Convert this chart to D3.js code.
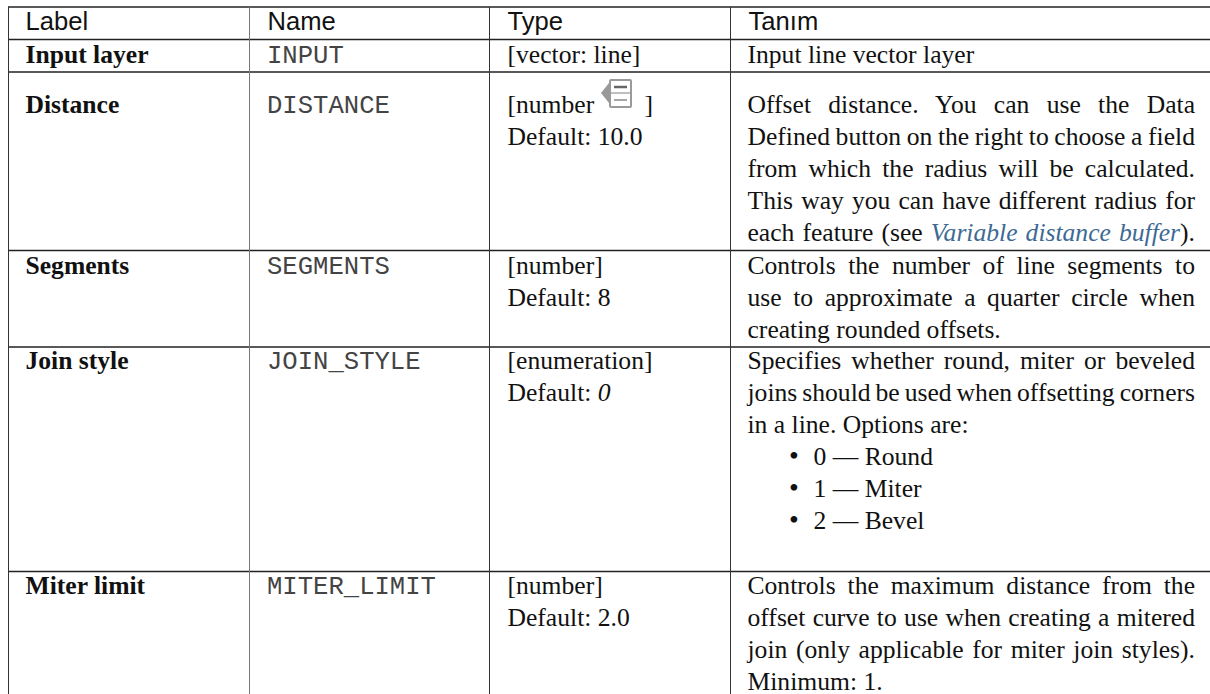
<!DOCTYPE html>
<html>
<head>
<meta charset="utf-8">
<script src="https://cdn.jsdelivr.net/npm/d3@7"></script>
<style>
  html, body { margin: 0; padding: 0; background: #fff; }
  svg { display: block; }
</style>
</head>
<body>
<svg id="chart" width="1210" height="694"></svg>
<script>
// Table content
const columns = ['Label', 'Name', 'Type', 'Tanım'];
const labels = ['Input layer', 'Distance', 'Segments', 'Join style', 'Miter limit'];
const names = ['INPUT', 'DISTANCE', 'SEGMENTS', 'JOIN_STYLE', 'MITER_LIMIT'];
const types = [
  ['[vector: line]'],
  ['[number', 'Default: 10.0'],
  ['[number]', 'Default: 8'],
  ['[enumeration]', 'Default: '],
  ['[number]', 'Default: 2.0']
];
const descriptions = [
  ['Input line vector layer'],
  ['Offset distance. You can use the Data', 'Defined button on the right to choose a field', 'from which the radius will be calculated.', 'This way you can have different radius for'],
  ['Controls the number of line segments to', 'use to approximate a quarter circle when', 'creating rounded offsets.'],
  ['Specifies whether round, miter or beveled', 'joins should be used when offsetting corners', 'in a line. Options are:'],
  ['Controls the maximum distance from the', 'offset curve to use when creating a mitered', 'join (only applicable for miter join styles).', 'Minimum: 1.']
];
const options = ['0 — Round', '1 — Miter', '2 — Bevel'];
const linkLine = ['each feature (see ', 'Variable distance buffer', ').'];

// Layout
const width = 1210;
const serif = '"Liberation Serif", serif';
const sans = '"Liberation Sans", sans-serif';
const mono = '"Liberation Mono", monospace';
const fontSize = 25.6;
const pitch = 32;

const svg = d3.select('#chart');

const colX = d3.scaleOrdinal().domain(columns).range([8.5, 249.5, 489.5, 730.5]);
const rowLines = [7, 39.5, 72, 250.5, 347, 571.5];
const rowFirst = [63, 113, 273.5, 369, 594];

function addText(x, y, str, font, opts = {}) {
  return svg.append('text')
    .attr('x', x).attr('y', y)
    .attr('font-family', font)
    .attr('font-size', opts.size || fontSize)
    .attr('font-weight', opts.weight || 'normal')
    .attr('font-style', opts.style || 'normal')
    .attr('fill', opts.fill || '#111')
    .text(str);
}

// stretch a line to the column width through word spacing
function justify(sel, target) {
  const len = sel.node().getComputedTextLength();
  const gaps = sel.text().trim().split(' ').length - 1;
  sel.attr('word-spacing', (target - len) / gaps);
}

// rules
svg.selectAll('.hrule').data(rowLines).enter().append('line')
  .attr('class', 'hrule')
  .attr('x1', 8).attr('x2', width)
  .attr('y1', d => d).attr('y2', d => d)
  .attr('stroke', '#222').attr('stroke-width', 1.6);
svg.selectAll('.vrule').data(columns).enter().append('line')
  .attr('class', 'vrule')
  .attr('x1', d => colX(d)).attr('x2', d => colX(d))
  .attr('y1', 7).attr('y2', 694)
  .attr('stroke', (d, i) => i === 1 ? '#777' : '#333').attr('stroke-width', 1);

// header
columns.forEach((c, i) => {
  addText(colX(c) + (i === 0 ? 17 : 18), 30, c, sans);
});

const textRight = 1195;
const descX = colX('Tanım') + 17;

labels.forEach((label, r) => {
  const y = rowFirst[r];
  addText(colX('Label') + 17, y, label, serif, { weight: 'bold' });
  addText(colX('Name') + 17.5, y, names[r], mono, { fill: '#444' });

  types[r].forEach((t, i) => {
    addText(colX('Type') + 18, y + i * pitch, t, serif);
  });

  descriptions[r].forEach((line, i) => {
    const sel = addText(descX, y + i * pitch, line, serif);
    const last = i === descriptions[r].length - 1;
    if ((!last || r === 1) && r !== 0) justify(sel, textRight - descX);
  });
});

// italic default value, placed after the measured label
const defaultLabel = svg.selectAll('text').filter(function () { return d3.select(this).text() === 'Default: '; });
defaultLabel.append('tspan').attr('font-style', 'italic').text('0');

// last line of the distance row carries the link
const seeSel = addText(descX, rowFirst[1] + 4 * pitch, '', serif);
linkLine.forEach((part, i) => {
  const span = seeSel.append('tspan').text(part);
  if (i === 1) span.attr('fill', '#3d6a94').attr('font-style', 'italic');
});
justify(seeSel, textRight - descX);

// closing bracket and data defined icon
addText(colX('Type') + 155, rowFirst[1], ']', serif);
const icon = svg.append('g').attr('transform', 'translate(601,79)');
icon.append('path').attr('d', 'M0 14 L8 4 L8 24 Z').attr('fill', '#999');
icon.append('rect').attr('x', 9).attr('y', 1).attr('width', 21).attr('height', 27).attr('rx', 1)
  .attr('fill', '#fff').attr('stroke', '#9a9a9a').attr('stroke-width', 2);
icon.append('line').attr('x1', 10).attr('x2', 29).attr('y1', 14).attr('y2', 14).attr('stroke', '#aaa').attr('stroke-width', 1.5);
icon.append('line').attr('x1', 13).attr('x2', 26).attr('y1', 8).attr('y2', 8).attr('stroke', '#666').attr('stroke-width', 2.5);
icon.append('line').attr('x1', 13).attr('x2', 26).attr('y1', 21).attr('y2', 21).attr('stroke', '#888').attr('stroke-width', 1.5);

// option list in the join style row
options.forEach((o, i) => {
  const y = rowFirst[3] + (3 + i) * pitch;
  addText(descX + 41.5, y, '•', serif, { size: 28 });
  addText(descX + 66, y, o, serif);
});
</script>
</body>
</html>
